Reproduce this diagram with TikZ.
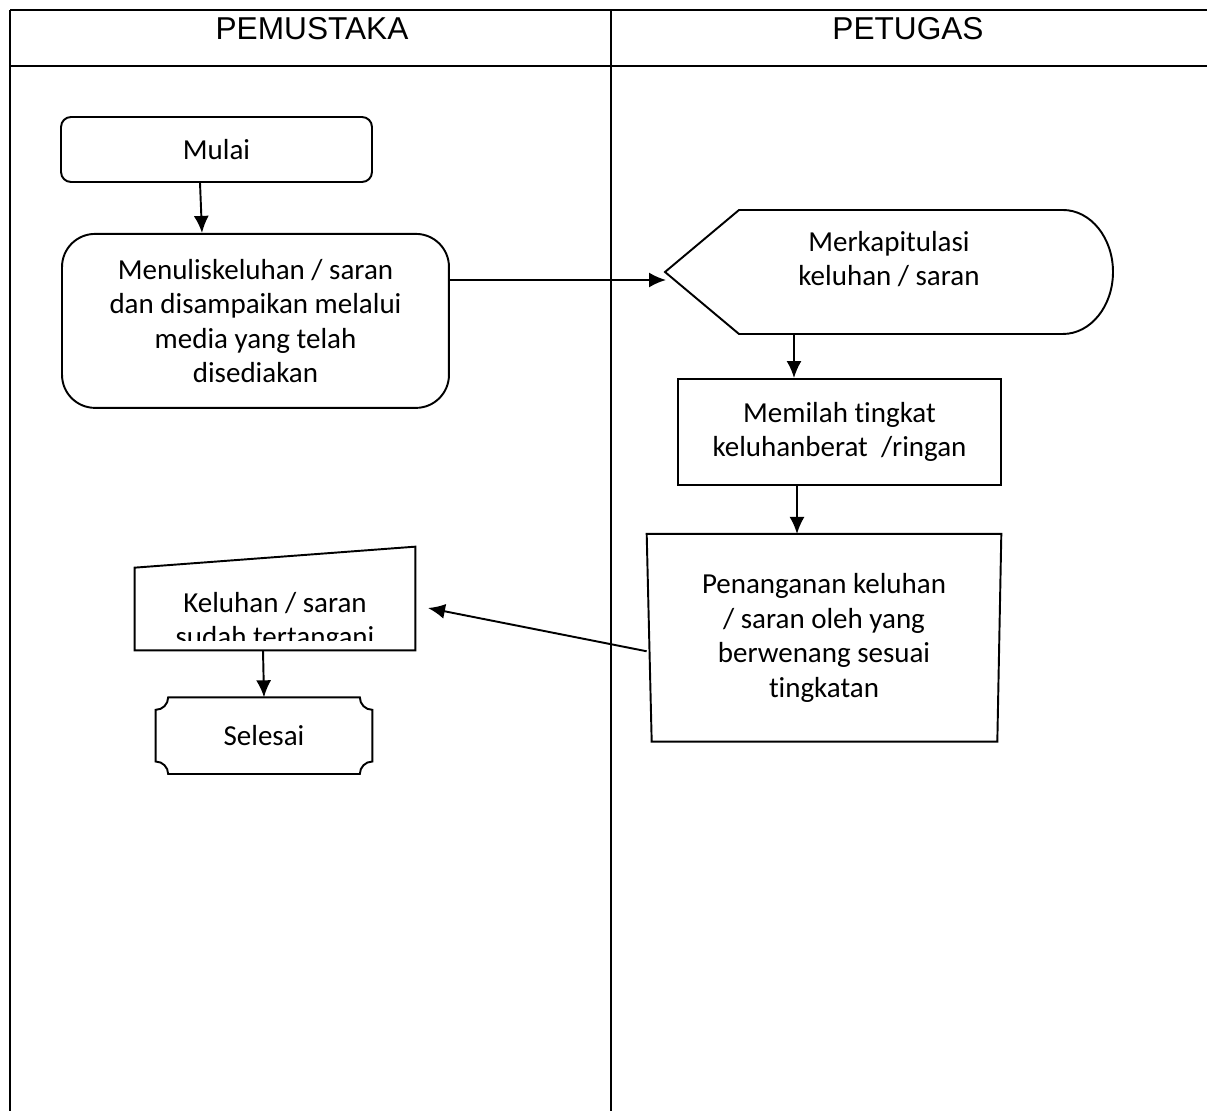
\documentclass[tikz,border=0pt]{standalone}
\usepackage{fontspec}
\setmainfont{Carlito}[Ligatures=NoCommon]
\newfontfamily\headfont{Liberation Sans}
\usetikzlibrary{arrows.meta, positioning}
\tikzstyle{lane} = [line width=1.1pt]
\tikzstyle{lanehead} = [font=\headfont\fontsize{18}{22}\selectfont]
\tikzstyle{terminal} = [rectangle, rounded corners=0.2cm, draw, line width=1.1pt, minimum width=6.22cm, minimum height=1.3cm]
\tikzstyle{input} = [rectangle, rounded corners=0.66cm, draw, line width=1.1pt, minimum width=7.74cm, minimum height=3.48cm]
\tikzstyle{process} = [rectangle, draw, line width=1.1pt, minimum width=6.46cm, minimum height=2.12cm]
\tikzstyle{holder} = [rectangle, inner sep=0pt]
\tikzstyle{outline} = [line width=1.1pt, line join=miter]
\tikzstyle{flow} = [line width=1.1pt, ->, >={Latex[length=0.34cm,width=0.3cm]}]

\begin{document}
\begin{tikzpicture}[x=0.02cm, y=-0.02cm, align=center, font=\fontsize{16.5}{19.6}\selectfont]
  \useasboundingbox (0,0) rectangle (1207,1111);
  % lanes
  \draw [lane] (10,10) -- (1207,10);
  \draw [lane] (10,66) -- (1207,66);
  \draw [lane] (10,10) -- (10,1111);
  \draw [lane] (611,10) -- (611,1111);
  \node (hpemustaka) [lanehead] at (312,29) {PEMUSTAKA};
  \node (hpetugas) [lanehead] at (908,29) {PETUGAS};

  % pemustaka
  \node (mulai) [terminal] at (216.5,149.5) {Mulai};
  \node (tulis) [input, below = 1cm of mulai, xshift = 0.78cm] {Menuliskeluhan / saran\\dan disampaikan melalui\\media yang telah\\disediakan};

  % petugas
  \node (rekap) [holder] at (889,259) {Merkapitulasi\\keluhan / saran};
  \draw [outline] (665,272) -- (739,210) -- (1063,210)
    arc[start angle=90, end angle=-90, x radius=1cm, y radius=1.24cm] -- (739,334) -- cycle;
  \coordinate (rekapin) at (666,280);
  \coordinate (rekapout) at (794,334);
  \node (pilah) [process] at (839.5,432) {Memilah tingkat\\keluhanberat~~/ringan};
  \node (tangani) [holder, minimum width=7.08cm, minimum height=4.14cm, below = 0.96cm of pilah, xshift = -0.31cm] {Penanganan keluhan\\/ saran oleh yang\\berwenang sesuai\\tingkatan};
  \draw [outline] (tangani.north west) -- (tangani.north east) -- ([xshift=-0.08cm]tangani.south east) -- ([xshift=0.1cm]tangani.south west) -- cycle;

  % back to pemustaka
  \node (keluhan) [holder, minimum width=5.6cm, minimum height=2.06cm] at (275,598.5) {};
  \draw [outline] ([yshift=-0.42cm]keluhan.north west) -- (keluhan.north east) -- (keluhan.south east) -- (keluhan.south west) -- cycle;
  \begin{scope}
    \clip (keluhan.north west) rectangle ([yshift=0.2cm]keluhan.south east);
    \node (keluhantxt) [holder] at (275,622) {Keluhan / saran\\sudah tertangani};
  \end{scope}
  \coordinate (keluhanin) at (428,608);
  \node (selesai) [holder, minimum width=4.32cm, minimum height=1.52cm, below = 0.94cm of keluhan, xshift = -0.22cm] {Selesai};
  \draw [outline] ([xshift=0.25cm]selesai.north west) -- ([xshift=-0.25cm]selesai.north east)
    arc[start angle=180, end angle=270, radius=0.25cm] -- ([yshift=0.25cm]selesai.south east)
    arc[start angle=90, end angle=180, radius=0.25cm] -- ([xshift=0.25cm]selesai.south west)
    arc[start angle=0, end angle=90, radius=0.25cm] -- ([yshift=-0.25cm]selesai.north west)
    arc[start angle=-90, end angle=0, radius=0.25cm] -- cycle;

  \draw [flow] ([xshift=-0.33cm]mulai.south) -- ([xshift=-1.07cm]tulis.north);
  \draw [flow] (tulis.east |- rekapin) -- (rekapin);
  \draw [flow] (rekapout) -- (pilah.north -| rekapout);
  \draw [flow] ([xshift=-0.85cm]pilah.south) -- ([xshift=-0.54cm]tangani.north);
  \draw [flow] ([yshift=-0.27cm]tangani.west) -- (keluhanin);
  \draw [flow] ([xshift=-0.24cm]keluhan.south) -- (selesai.north);
\end{tikzpicture}
\end{document}
